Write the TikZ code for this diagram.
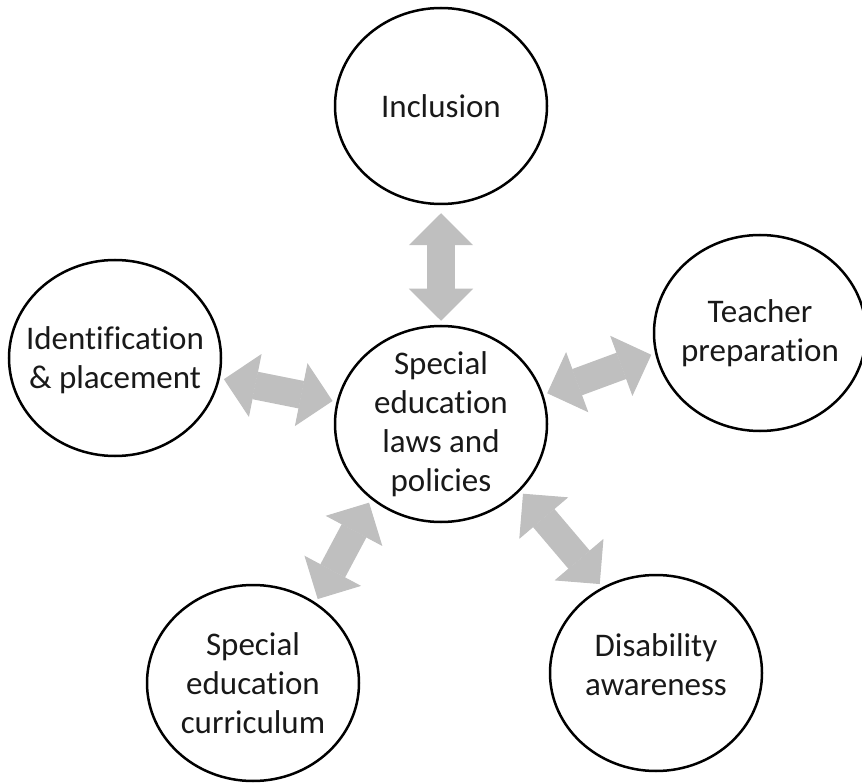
\documentclass[tikz,border=0pt]{standalone}
\usepackage{fontspec}
\setmainfont{Carlito}[Ligatures=NoCommon, Contextuals=NoAlternate]
\usetikzlibrary{shapes.geometric, arrows.meta}

\definecolor{arrowgray}{RGB}{191,191,191}

\begin{document}
\begin{tikzpicture}[x=1pt, y=-1pt,
        topic/.style={ellipse, draw, line width=2.5pt, minimum width=212pt, minimum height=196pt, inner sep=0pt},
        topictext/.style={align=center, inner sep=0pt, text=black!90, font=\fontsize{33}{39}\selectfont},
        link/.style={line width=28pt, arrowgray, shorten <=4pt, shorten >=4pt,
            {Triangle[length=32pt, width=64pt, line width=1pt]}-{Triangle[length=32pt, width=64pt, line width=1pt]}}]
        \useasboundingbox (0,0) rectangle (862,783);

        \node [topic] (laws) at (441,424) {};
        \node [topic] (inclusion) at (441,106) {};
        \node [topic] (identification) at (115,358) {};
        \node [topic] (teacher) at (760,333) {};
        \node [topic] (curriculum) at (253,683) {};
        \node [topic] (disability) at (656,673) {};

        \node [topictext] at (laws.center) {Special\\education\\laws and\\policies};
        \node [topictext] at (inclusion.center) {Inclusion};
        \node [topictext] at ([yshift=-2pt]identification.center) {Identification\\\& placement};
        \node [topictext] at (teacher.center) {Teacher\\preparation};
        \node [topictext] at (curriculum.center) {Special\\education\\curriculum};
        \node [topictext] at ([yshift=8pt]disability.center) {Disability\\awareness};

        \draw [link, shorten <=8pt] (inclusion.south) -- (laws.north);
        \draw [link] (identification.-11) -- (laws.168);
        \draw [link] (teacher.-169) -- (laws.16);
        \draw [link] (curriculum.52) -- (laws.-133);
        \draw [link] (disability.122) -- (laws.-40);
    \end{tikzpicture}
\end{document}
